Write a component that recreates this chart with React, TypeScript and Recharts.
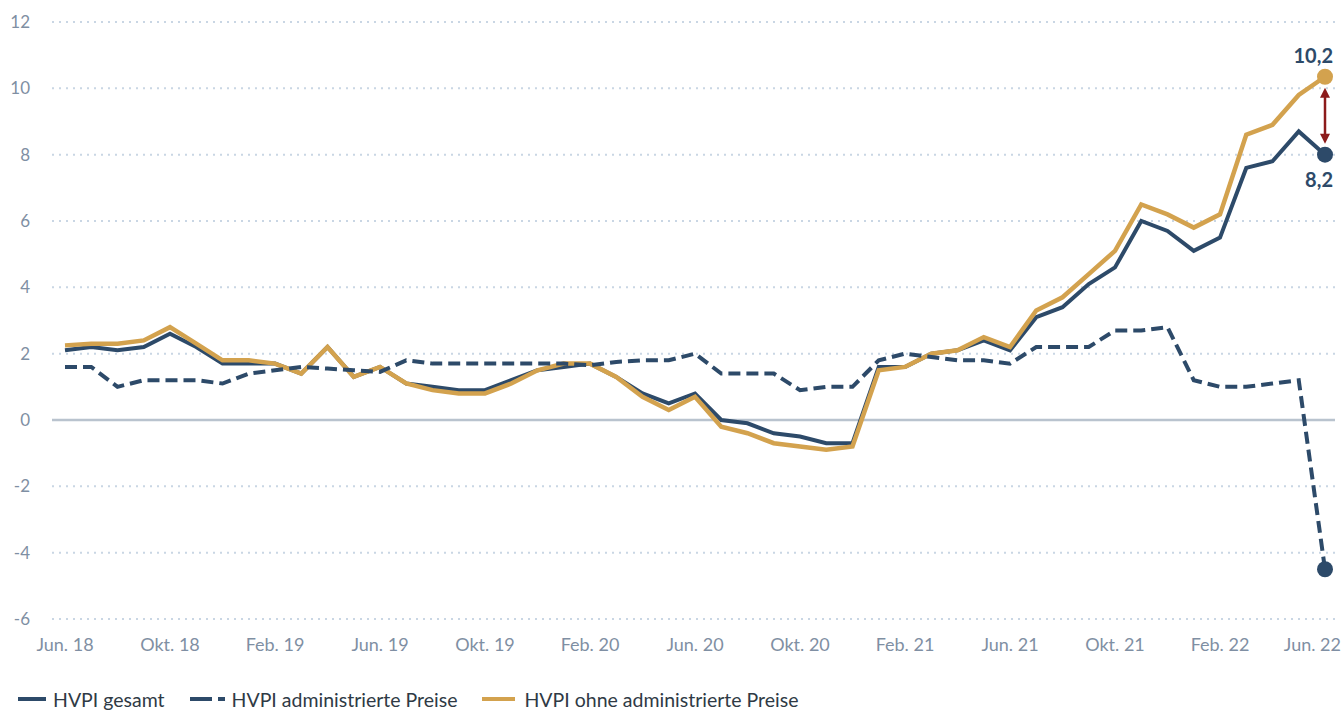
import React from 'react';
import {
  LineChart, Line, XAxis, YAxis, CartesianGrid,
  ReferenceLine, Legend
} from 'recharts';

// monthly categories, Jun. 18 .. Jun. 22
const months = [
  'Jun. 18', 'Jul. 18', 'Aug. 18', 'Sep. 18', 'Okt. 18', 'Nov. 18', 'Dez. 18',
  'Jan. 19', 'Feb. 19', 'Mär. 19', 'Apr. 19', 'Mai 19', 'Jun. 19', 'Jul. 19',
  'Aug. 19', 'Sep. 19', 'Okt. 19', 'Nov. 19', 'Dez. 19', 'Jan. 20', 'Feb. 20',
  'Mär. 20', 'Apr. 20', 'Mai 20', 'Jun. 20', 'Jul. 20', 'Aug. 20', 'Sep. 20',
  'Okt. 20', 'Nov. 20', 'Dez. 20', 'Jan. 21', 'Feb. 21', 'Mär. 21', 'Apr. 21',
  'Mai 21', 'Jun. 21', 'Jul. 21', 'Aug. 21', 'Sep. 21', 'Okt. 21', 'Nov. 21',
  'Dez. 21', 'Jan. 22', 'Feb. 22', 'Mär. 22', 'Apr. 22', 'Mai 22', 'Jun. 22',
];

const hvpiGesamt = [
  2.1, 2.2, 2.1, 2.2, 2.6, 2.2, 1.7,
  1.7, 1.7, 1.4, 2.2, 1.3, 1.6, 1.1, 1.0, 0.9, 0.9, 1.2, 1.5,
  1.6, 1.7, 1.3, 0.8, 0.5, 0.8, 0.0, -0.1, -0.4, -0.5, -0.7, -0.7,
  1.6, 1.6, 2.0, 2.1, 2.4, 2.1, 3.1, 3.4, 4.1, 4.6, 6.0, 5.7,
  5.1, 5.5, 7.6, 7.8, 8.7, 8.0,
];

const hvpiAdmin = [
  1.6, 1.6, 1.0, 1.2, 1.2, 1.2, 1.1,
  1.4, 1.5, 1.6, 1.55, 1.5, 1.45, 1.8, 1.7, 1.7, 1.7, 1.7, 1.7,
  1.7, 1.65, 1.75, 1.8, 1.8, 2.0, 1.4, 1.4, 1.4, 0.9, 1.0, 1.0,
  1.8, 2.0, 1.9, 1.8, 1.8, 1.7, 2.2, 2.2, 2.2, 2.7, 2.7, 2.8,
  1.2, 1.0, 1.0, 1.1, 1.2, -4.5,
];

const hvpiOhneAdmin = [
  2.25, 2.3, 2.3, 2.4, 2.8, 2.3, 1.8,
  1.8, 1.7, 1.4, 2.2, 1.3, 1.6, 1.1, 0.9, 0.8, 0.8, 1.1, 1.5,
  1.7, 1.7, 1.3, 0.7, 0.3, 0.7, -0.2, -0.4, -0.7, -0.8, -0.9, -0.8,
  1.5, 1.6, 2.0, 2.1, 2.5, 2.2, 3.3, 3.7, 4.4, 5.1, 6.5, 6.2,
  5.8, 6.2, 8.6, 8.9, 9.8, 10.35,
];

const yTicks = [-6, -4, -2, 0, 2, 4, 6, 8, 10, 12];
const endLabels = { gesamt: '8,2', ohne: '10,2' };

const seriesNames = {
  gesamt: 'HVPI gesamt',
  admin: 'HVPI administrierte Preise',
  ohne: 'HVPI ohne administrierte Preise',
};

const data = months.map((m, i) => ({
  month: m,
  gesamt: hvpiGesamt[i],
  admin: hvpiAdmin[i],
  ohne: hvpiOhneAdmin[i],
}));

const NAVY = '#2d4a69';
const GOLD = '#d3a24e';
const RED = '#8c1b1b';
const AXIS_TEXT = '#7f8fa3';
const FONT = 'Lato, "Noto Sans", sans-serif';
const LAST = months.length - 1;

const endDot = (color: string, label?: string, below?: boolean) => (props: any) => {
  const { cx, cy, index } = props;
  if (index !== LAST) return <g key={`d-${index}`} />;
  return (
    <g key={`d-${index}`}>
      <circle cx={cx} cy={cy} r={8} fill={color} />
      {label && (
        <text
          x={cx + 8}
          y={below ? cy + 32 : cy - 14}
          textAnchor="end"
          fontFamily={FONT}
          fontWeight={700}
          fontSize={20}
          fill={NAVY}
        >
          {label}
        </text>
      )}
    </g>
  );
};

const XTick = (props: any) => {
  const { x, y, payload } = props;
  const isLast = payload.value === months[LAST];
  return (
    <text
      x={isLast ? x + 16 : x}
      y={y}
      dy="0.71em"
      textAnchor={isLast ? 'end' : 'middle'}
      fontFamily={FONT}
      fontSize={18}
      fill={AXIS_TEXT}
    >
      {payload.value}
    </text>
  );
};

// double headed arrow between the two end points
const arrowShape = (p: any) => {
  const { x1, y1, x2, y2 } = p;
  const x = x1 ?? x2;
  const top = Math.min(y1, y2) + 11;
  const bottom = Math.max(y1, y2) - 11;
  return (
    <g>
      <line x1={x} y1={top + 6} x2={x} y2={bottom - 6} stroke={RED} strokeWidth={2.5} />
      <polygon points={`${x},${top} ${x - 5},${top + 10} ${x + 5},${top + 10}`} fill={RED} />
      <polygon points={`${x},${bottom} ${x - 5},${bottom - 10} ${x + 5},${bottom - 10}`} fill={RED} />
    </g>
  );
};

const LegendContent = () => (
  <div
    style={{
      display: 'flex', alignItems: 'center', height: 24,
      fontFamily: FONT, fontSize: 19.5, color: '#2f3a45', paddingLeft: 18,
    }}
  >
    <svg width={28} height={10} style={{ marginRight: 7 }}>
      <line x1={0} y1={5} x2={28} y2={5} stroke={NAVY} strokeWidth={4} />
    </svg>
    <span style={{ marginRight: 25 }}>{seriesNames.gesamt}</span>
    <svg width={35} height={10} style={{ marginRight: 7 }}>
      <line x1={0} y1={5} x2={22} y2={5} stroke={NAVY} strokeWidth={4} />
      <line x1={28} y1={5} x2={35} y2={5} stroke={NAVY} strokeWidth={4} />
    </svg>
    <span style={{ marginRight: 25 }}>{seriesNames.admin}</span>
    <svg width={33} height={10} style={{ marginRight: 9 }}>
      <line x1={0} y1={5} x2={33} y2={5} stroke={GOLD} strokeWidth={4} />
    </svg>
    <span>{seriesNames.ohne}</span>
  </div>
);

export default function App() {
  return (
    <div style={{ position: 'absolute', left: 0, top: 0, background: '#fff' }}>
      <LineChart
        width={1343}
        height={711}
        data={data}
        margin={{ top: 22, right: 8, left: 0, bottom: 0 }}
      >
        <CartesianGrid
          vertical={false}
          stroke="#c9d6e4"
          strokeDasharray="2 5"
          strokeWidth={2}
        />
        <XAxis
          dataKey="month"
          interval={3}
          height={68}
          axisLine={false}
          tickLine={false}
          tickSize={0}
          tickMargin={19}
          padding={{ left: 13, right: 10 }}
          tick={<XTick />}
        />
        <YAxis
          width={52}
          domain={[-6, 12]}
          ticks={yTicks}
          axisLine={false}
          tickLine={false}
          tickSize={0}
          tickMargin={22}
          tick={{ fill: AXIS_TEXT, fontSize: 17, fontFamily: FONT }}
        />
        <ReferenceLine y={0} stroke="#b9c3ce" strokeWidth={2.5} />
        <Line
          dataKey="gesamt"
          name={seriesNames.gesamt}
          stroke={NAVY}
          strokeWidth={4}
          dot={endDot(NAVY, endLabels.gesamt, true)}
          activeDot={false}
          isAnimationActive={false}
        />
        <Line
          dataKey="ohne"
          name={seriesNames.ohne}
          stroke={GOLD}
          strokeWidth={4.5}
          dot={endDot(GOLD, endLabels.ohne, false)}
          activeDot={false}
          isAnimationActive={false}
        />
        <Line
          dataKey="admin"
          name={seriesNames.admin}
          stroke={NAVY}
          strokeWidth={4}
          strokeDasharray="12 6"
          dot={endDot(NAVY)}
          activeDot={false}
          isAnimationActive={false}
        />
        <ReferenceLine
          segment={[
            { x: months[LAST], y: hvpiOhneAdmin[LAST] },
            { x: months[LAST], y: hvpiGesamt[LAST] },
          ]}
          stroke={RED}
          shape={arrowShape}
        />
        <Legend
          verticalAlign="bottom"
          align="left"
          height={24}
          wrapperStyle={{ bottom: 0, left: 0 }}
          content={<LegendContent />}
        />
      </LineChart>
    </div>
  );
}
